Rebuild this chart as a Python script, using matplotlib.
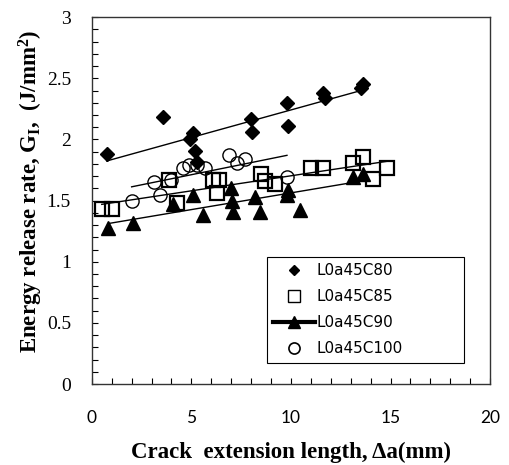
import numpy as np
import matplotlib
matplotlib.use("Agg")
import matplotlib.pyplot as plt
from matplotlib.lines import Line2D
from matplotlib.ticker import MultipleLocator

plt.rcParams['mathtext.fontset'] = 'custom'
plt.rcParams['mathtext.rm'] = 'Liberation Serif:bold'
plt.rcParams['mathtext.bf'] = 'Liberation Serif:bold'
plt.rcParams['mathtext.it'] = 'Liberation Serif:bold'

# Data
c80_x = [0.75, 3.57, 5.08, 4.92, 5.18, 5.28, 7.99, 8.04, 9.80, 9.85, 11.6, 11.7, 13.6, 13.5]
c80_y = [1.88, 2.18, 2.05, 2.00, 1.91, 1.82, 2.17, 2.06, 2.30, 2.11, 2.38, 2.34, 2.45, 2.42]

c85_x = [0.5, 1.0, 3.9, 4.3, 6.1, 6.4, 6.3, 8.5, 8.7, 9.2, 11.0, 11.6, 13.1, 13.6, 14.1, 14.8]
c85_y = [1.43, 1.43, 1.67, 1.48, 1.67, 1.67, 1.56, 1.72, 1.66, 1.64, 1.77, 1.77, 1.81, 1.86, 1.68, 1.77]

c90_x = [0.8, 2.06, 4.07, 5.08, 5.58, 7.0, 7.05, 7.1, 8.2, 8.45, 9.85, 9.8, 10.45, 13.1, 13.6]
c90_y = [1.28, 1.32, 1.47, 1.55, 1.38, 1.60, 1.50, 1.41, 1.53, 1.41, 1.59, 1.55, 1.42, 1.69, 1.72]

c100_x = [2.0, 3.1, 3.4, 4.0, 4.6, 4.9, 5.3, 5.7, 6.9, 7.3, 7.7, 9.8]
c100_y = [1.50, 1.65, 1.55, 1.67, 1.77, 1.79, 1.79, 1.77, 1.87, 1.81, 1.84, 1.69]

x_ticks = [0, 5, 10, 15, 20]
y_ticks = [0, 0.5, 1, 1.5, 2, 2.5, 3]
y_tick_labels = ['0', '0.5', '1', '1.5', '2', '2.5', '3']

fig = plt.figure(figsize=(5.1, 4.65), dpi=100)
ax = fig.add_axes([0.180, 0.174, 0.781, 0.789])


def trend(xs, ys):
    xs = np.array(xs)
    k, b = np.polyfit(xs, np.array(ys), 1)
    xx = np.array([xs.min(), xs.max()])
    ax.plot(xx, k * xx + b, color='black', lw=1.0, zorder=2)


trend(c80_x, c80_y)
trend(c85_x, c85_y)
trend(c90_x, c90_y)
trend(c100_x, c100_y)

ax.plot(c100_x, c100_y, 'o', ms=9.5, mfc='none', mec='black', mew=1.0, zorder=3)
ax.plot(c85_x, c85_y, 's', ms=9.5, mfc='none', mec='black', mew=1.6, zorder=3)
ax.plot(c90_x, c90_y, '^', ms=10, mfc='black', mec='black', zorder=4)
ax.plot(c80_x, c80_y, 'D', ms=7, mfc='black', mec='black', zorder=4)

ax.set_xlim(0, 20)
ax.set_ylim(0, 3)
ax.set_xticks(x_ticks)
ax.set_xticklabels([str(v) for v in x_ticks], fontfamily='Lato', fontsize=12.5)
ax.set_yticks(y_ticks)
ax.set_yticklabels(y_tick_labels, fontfamily='Liberation Serif', fontsize=14)
ax.xaxis.set_minor_locator(MultipleLocator(1))
ax.yaxis.set_minor_locator(MultipleLocator(0.1))
ax.tick_params(which='both', direction='in', length=4, width=0.8, top=False, right=False)
ax.tick_params(axis='x', which='major', pad=18.5)
ax.tick_params(axis='y', which='major', pad=15)
for s in ax.spines.values():
    s.set_linewidth(1.0)
    s.set_color('#333333')

ax.set_xlabel('Crack  extension length, Δa(mm)', fontfamily='Liberation Serif',
              fontweight='bold', fontsize=16.5)
ax.set_ylabel(r'Energy release rate, G$_{\mathrm{I}}$,  (J/mm$^{2}$)',
              fontfamily='Liberation Serif', fontweight='bold', fontsize=16.5)
ax.xaxis.set_label_coords(0.5, -0.158)
ax.yaxis.set_label_coords(-0.118, 0.525)

handles = [
    Line2D([], [], ls='none', marker='D', ms=5.5, color='black'),
    Line2D([], [], ls='none', marker='s', ms=9, mfc='none', mec='black', mew=1.0),
    Line2D([], [], ls='-', lw=3, marker='^', ms=9, color='black'),
    Line2D([], [], ls='none', marker='o', ms=8, mfc='none', mec='black', mew=1.2),
]
labels = ['L0a45C80', 'L0a45C85', 'L0a45C90', 'L0a45C100']
leg = ax.legend(handles, labels, loc='lower left', bbox_to_anchor=(0.44, 0.058, 0.495, 0.30),
                mode='expand', fancybox=False, edgecolor='black', framealpha=1,
                prop={'family': 'DejaVu Sans', 'size': 11}, handlelength=2.75,
                handletextpad=0.05, labelspacing=0.72, borderpad=0.42, borderaxespad=0)
leg.get_frame().set_linewidth(0.8)

fig.savefig('out.png', dpi=100)
